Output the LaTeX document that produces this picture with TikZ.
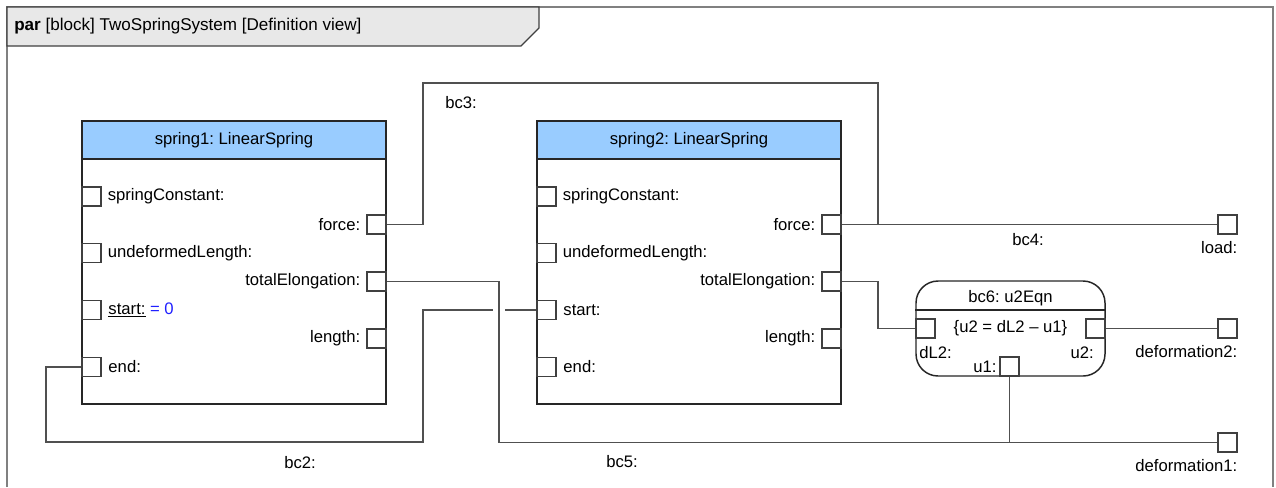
\documentclass[tikz,border=0pt]{standalone}
\usepackage{fontspec}
\setmainfont{Liberation Sans}
\frenchspacing
\definecolor{partblue}{HTML}{99CCFF}
\definecolor{tabgray}{HTML}{E8E8E8}
\definecolor{wire}{HTML}{505050}
\definecolor{valblue}{HTML}{2020FF}
\begin{document}
\begin{tikzpicture}[x=0.75pt,y=-0.75pt,font=\fontsize{12.5}{15}\selectfont]
        \tikzstyle{part}=[rectangle,draw=black!85,line width=1.1pt,fill=white,minimum width=228pt,minimum height=212.25pt,inner sep=0]
        \tikzstyle{parthead}=[rectangle,draw=black!85,line width=1.1pt,fill=partblue,minimum width=228pt,minimum height=28.5pt,inner sep=0,anchor=north]
        \tikzstyle{port}=[rectangle,draw=black!75,line width=0.8pt,fill=white,minimum size=14.25pt,inner sep=0]
        \tikzstyle{lbl}=[inner sep=0]
        \tikzstyle{conn}=[draw=wire,line width=0.9pt]
        \useasboundingbox (0,0) rectangle (1276,487);
        % frame and its name tab
        \draw[draw=black!50,line width=1.2pt] (7,487) -- (7,7) -- (1273,7) -- (1273,487);
        \draw[draw=black!75,line width=0.9pt,fill=tabgray] (7,7) -- (539,7) -- (539,28) -- (521,46) -- (7,46) -- cycle;
        \node[lbl,anchor=west] (title) at (14,26) {\fontsize{12.8}{15}\selectfont\textbf{par} [block] TwoSpringSystem [Definition view]};
       \begin{scope}
         % spring1
         \node [part] (s1) at (234,262.5) {};
         \node [parthead] (s1h) at (s1.north) {spring1: LinearSpring};
         \node [port] (s1k) at (91.5,196.5) {};
         \node [port] (s1f) at (376.5,224.5) {};
         \node [port] (s1u) at (91.5,253) {};
         \node [port] (s1te) at (376.5,281.5) {};
         \node [port] (s1st) at (91.5,310) {};
         \node [port] (s1len) at (376.5,338.5) {};
         \node [port] (s1end) at (91.5,367) {};
         \node [lbl,anchor=west] at ([xshift=4.5pt]s1k.east) {springConstant:};
         \node [lbl,anchor=east] at ([xshift=-4.5pt]s1f.west) {force:};
         \node [lbl,anchor=west] at ([xshift=4.5pt]s1u.east) {undeformedLength:};
         \node [lbl,anchor=east] at ([xshift=-4.5pt]s1te.west) {totalElongation:};
         \node [lbl,anchor=west] at ([xshift=5pt]s1st.east) {\underline{start:} \textcolor{valblue}{= 0}};
         \node [lbl,anchor=east] at ([xshift=-4.5pt]s1len.west) {length:};
         \node [lbl,anchor=west] at ([xshift=5pt]s1end.east) {end:};
         % spring2
         \node [part] (s2) at (689,262.5) {};
         \node [parthead] (s2h) at (s2.north) {spring2: LinearSpring};
         \node [port] (s2k) at (546.5,196.5) {};
         \node [port] (s2f) at (831.5,224.5) {};
         \node [port] (s2u) at (546.5,253) {};
         \node [port] (s2te) at (831.5,281.5) {};
         \node [port] (s2st) at (546.5,310) {};
         \node [port] (s2len) at (831.5,338.5) {};
         \node [port] (s2end) at (546.5,367) {};
         \node [lbl,anchor=west] at ([xshift=4.5pt]s2k.east) {springConstant:};
         \node [lbl,anchor=east] at ([xshift=-4.5pt]s2f.west) {force:};
         \node [lbl,anchor=west] at ([xshift=4.5pt]s2u.east) {undeformedLength:};
         \node [lbl,anchor=east] at ([xshift=-4.5pt]s2te.west) {totalElongation:};
         \node [lbl,anchor=west] at ([xshift=5pt]s2st.east) {start:};
         \node [lbl,anchor=east] at ([xshift=-4.5pt]s2len.west) {length:};
         \node [lbl,anchor=west] at ([xshift=5pt]s2end.east) {end:};
         % bc6 constraint
         \node [rectangle,draw=black!85,line width=1.1pt,fill=white,rounded corners=16.5pt,minimum width=141.75pt,minimum height=71.25pt,inner sep=0] (bc6) at (1010.5,328.5) {};
         \draw[draw=black!85,line width=1.1pt] (bc6.west |- 0,310) -- (bc6.east |- 0,310);
         \node [lbl] (bc6t) at (1010.5,298) {bc6: u2Eqn};
         \node [lbl] (eqn) at (1010.5,328.5) {\{u2 = dL2 -- u1\}};
         \node [port] (dL2) at (925.5,328.5) {};
         \node [port] (u2) at (1095.5,328.5) {};
         \node [port] (u1) at (1009.5,366.5) {};
         \node [lbl,anchor=west] at (919,353) {dL2:};
         \node [lbl,anchor=east] at (1094,353) {u2:};
         \node [lbl,anchor=east] at ([xshift=-2pt]u1.west) {u1:};
         % boundary ports
         \node [port] (load) at (1227.5,224.5) {};
         \node [port] (defo2) at (1227.5,328.5) {};
         \node [port] (defo1) at (1227.5,442.5) {};
         \node [lbl,anchor=north east] at ([yshift=-5pt]load.south east) {load:};
         \node [lbl,anchor=north east] at ([yshift=-5pt]defo2.south east) {deformation2:};
         \node [lbl,anchor=north east] at ([yshift=-5pt]defo1.south east) {deformation1:};

         % binding connectors
         \path[conn] (s1f.east) -| (423,83) -| (878,224.5) -- (s2f.east);
         \path[conn] (s2f.east) -- (load.west);
         \path[conn] (s1end.west) -| (46,442) -| (423,310) -- (493,310);
         \path[conn] (505,310) -- (s2st.west);
         \path[conn] (s1te.east) -| (499,442.5) -- (defo1.west);
         \path[conn] (u1.south) -- (u1.south |- defo1.west);
         \path[conn] (s2te.east) -| (878,328.5) -- (dL2.west);
         \path[conn] (u2.east) -- (defo2.west);
         \node [lbl] at (461,103) {bc3:};
         \node [lbl] at (1028,240) {bc4:};
         \node [lbl] at (300,463) {bc2:};
         \node [lbl] at (622,462) {bc5:};
        \end{scope}
      \end{tikzpicture}
\end{document}
